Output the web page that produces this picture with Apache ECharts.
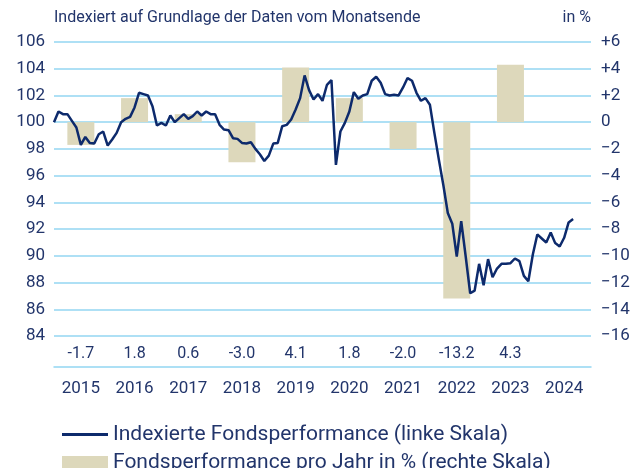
<!DOCTYPE html>
<html>
<head>
<meta charset="utf-8">
<script src="https://cdn.jsdelivr.net/npm/echarts@6/dist/echarts.min.js"></script>
<style>
  html, body { margin: 0; padding: 0; background: #fff; }
  #chart { width: 638px; height: 468px; }
</style>
</head>
<body>
<div id="chart"></div>
<script>
// Jahre und Jahresperformance (rechte Skala)
const years = ['2015', '2016', '2017', '2018', '2019', '2020', '2021', '2022', '2023', '2024'];
const yearPerf = [-1.7, 1.8, 0.6, -3.0, 4.1, 1.8, -2.0, -13.2, 4.3, null];

// Indexierte Fondsperformance, Monatsende, Start Ende 2014 = 100
const monthIdx = [];
const fundIndex = [
  100.0, 100.8, 100.6, 100.6, 100.1, 99.6, 98.3, 98.9, 98.45, 98.4, 99.1, 99.3,
  98.25, 98.7, 99.2, 100.0, 100.25, 100.4, 101.1, 102.2, 102.1, 102.0, 101.2, 99.75,
  99.95, 99.75, 100.5, 100.0, 100.3, 100.6, 100.25, 100.45, 100.8, 100.5, 100.8, 100.6,
  100.6, 99.8, 99.45, 99.4, 98.8, 98.75, 98.45, 98.4, 98.5, 98.0, 97.6, 97.1,
  97.5, 98.4, 98.45, 99.7, 99.8, 100.2, 100.95, 101.8, 103.5, 102.4, 101.7, 102.1,
  101.6, 102.8, 103.15, 96.8, 99.3, 99.95, 100.8, 102.25, 101.75, 102.0, 102.1, 103.1,
  103.4, 102.95, 102.1, 102.0, 102.05, 102.0, 102.6, 103.3, 103.1, 102.2, 101.6, 101.8,
  101.3, 99.2, 97.2, 95.3, 93.2, 92.4, 89.95, 92.6, 89.95, 87.2, 87.4, 89.4,
  87.8, 89.75, 88.4, 89.05, 89.4, 89.4, 89.45, 89.8, 89.6, 88.5, 88.1, 90.1,
  91.6, 91.3, 91.0, 91.75, 90.95, 90.7, 91.35, 92.5, 92.75
];
for (let i = 0; i < fundIndex.length; i++) monthIdx.push(i);

const lineName = 'Indexierte Fondsperformance (linke Skala)';
const barName = 'Fondsperformance pro Jahr in % (rechte Skala)';

const textColor = '#22356b';
const gridColor = '#93d6f2';
const font = 'Roboto';

const chart = echarts.init(document.getElementById('chart'));

const option = {
  animation: false,
  textStyle: { fontFamily: font, color: textColor },
  grid: { left: 54, right: 47, top: 42, bottom: 132 },
  graphic: [
    {
      type: 'text', left: 54, top: 10,
      style: { text: 'Indexiert auf Grundlage der Daten vom Monatsende', fill: textColor, font: '16px ' + font }
    },
    {
      type: 'text', right: 47, top: 10,
      style: { text: 'in %', fill: textColor, font: '16px ' + font }
    }
  ],
  legend: [
    {
      left: 57, top: 419,
      itemWidth: 46, itemHeight: 3, itemGap: 12,
      textStyle: { fontSize: 21, color: textColor, fontFamily: font },
      data: [{ name: lineName, icon: 'path://M0,0 L46,0 L46,3 L0,3 Z' }]
    },
    {
      left: 57, top: 447,
      itemWidth: 46, itemHeight: 13, itemGap: 12,
      textStyle: { fontSize: 21, color: textColor, fontFamily: font },
      data: [{ name: barName, icon: 'rect' }]
    }
  ],
  xAxis: [
    {
      // Zeile mit den Jahreswerten
      type: 'category', data: years, gridIndex: 0, position: 'bottom',
      axisLine: { show: false }, axisTick: { show: false },
      axisLabel: {
        margin: 10, fontSize: 16, color: textColor,
        formatter: function (v, idx) {
          const p = yearPerf[idx];
          return p === null ? '' : p.toFixed(1);
        }
      }
    },
    {
      type: 'category', data: years, gridIndex: 0, position: 'bottom', offset: 31,
      axisLine: { show: true, lineStyle: { color: gridColor, width: 1.5 } },
      axisTick: { show: false },
      axisLabel: { margin: 13, fontSize: 17, color: textColor }
    },
    {
      type: 'value', min: 0, max: 120, show: false, gridIndex: 0
    }
  ],
  yAxis: [
    {
      type: 'value', min: 84, max: 106, interval: 2, position: 'left',
      axisLine: { show: false }, axisTick: { show: false },
      axisLabel: { margin: 9, fontSize: 17, color: textColor },
      splitLine: { lineStyle: { color: gridColor, width: 1.5 } }
    },
    {
      type: 'value', min: -16, max: 6, interval: 2, position: 'right',
      axisLine: { show: false }, axisTick: { show: false },
      splitLine: { show: false },
      axisLabel: {
        margin: 10, fontSize: 17, color: textColor,
        formatter: function (v) {
          if (v > 0) return '+' + v;
          if (v < 0) return '\u2212' + Math.abs(v);
          return '0';
        }
      }
    }
  ],
  series: [
    {
      name: barName, type: 'bar', xAxisIndex: 0, yAxisIndex: 1,
      data: yearPerf, barWidth: 27,
      itemStyle: { color: '#ddd8bb' }
    },
    {
      name: lineName, type: 'line', xAxisIndex: 2, yAxisIndex: 0,
      data: monthIdx.map(function (m, i) { return [m, fundIndex[i]]; }),
      symbol: 'none',
      lineStyle: { color: '#0d2a6c', width: 2.5 },
      itemStyle: { color: '#0d2a6c' }
    }
  ]
};

chart.setOption(option);
</script>
</body>
</html>
